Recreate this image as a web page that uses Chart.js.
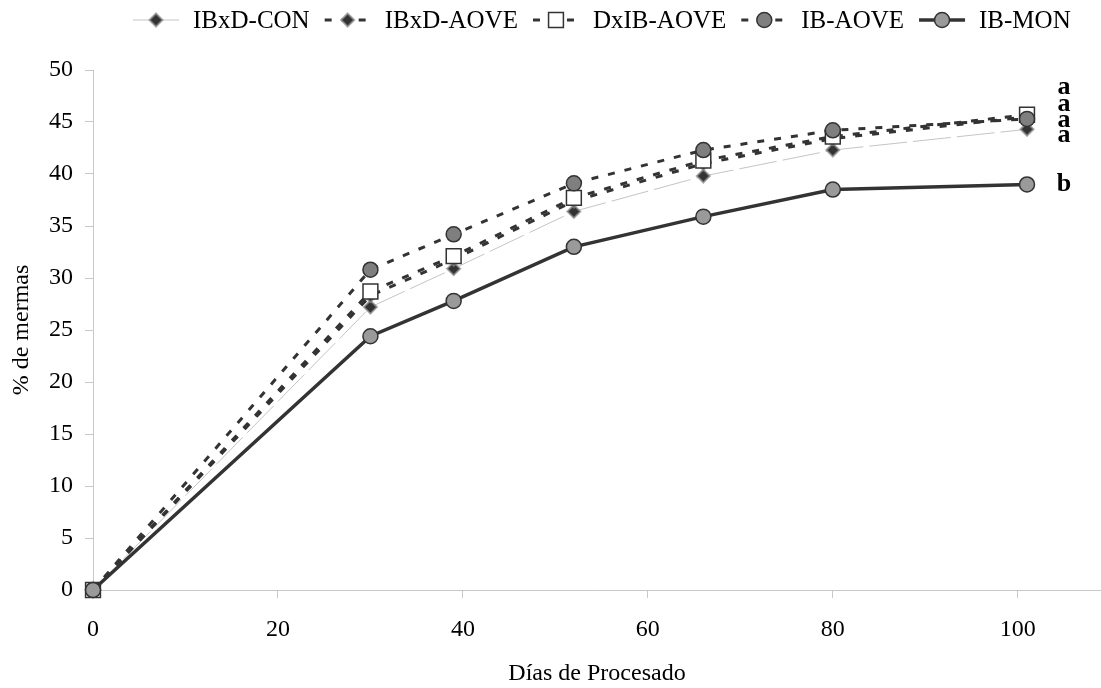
<!DOCTYPE html>
<html>
<head>
<meta charset="utf-8">
<title>% de mermas</title>
<script src="https://cdn.jsdelivr.net/npm/chart.js@4.4.1/dist/chart.umd.min.js"></script>
<style>
  html, body { margin: 0; padding: 0; background: #fff; }
  #wrap { width: 1101px; height: 688px; }
</style>
</head>
<body>
<div id="wrap"><canvas id="mermasChart" width="1101" height="688"></canvas></div>
<script>
// días de procesado
const dias = [0, 30, 39, 52, 66, 80, 101];

// % de mermas por lote
const ibxdCon  = [0, 27.2, 30.9, 36.4, 39.8, 42.3, 44.3];
const ibxdAove = [0, 28.3, 31.8, 37.4, 41.0, 43.4, 45.5];
const dxibAove = [0, 28.7, 32.1, 37.7, 41.3, 43.6, 45.7];
const ibAove   = [0, 30.8, 34.2, 39.1, 42.3, 44.2, 45.3];
const ibMon    = [0, 24.4, 27.8, 33.0, 35.9, 38.5, 39.0];

// letras de significación al final de cada curva
const letras  = ['a', 'a', 'a', 'a', 'b'];
const letrasY = [48.3, 46.7, 45.2, 43.7, 39.0];

const FONT = '"Liberation Serif", "Times New Roman", serif';
const DARK = '#333333';
const DASH = [7, 10];

function serie(label, values, extra) {
    return Object.assign({
        label: label,
        data: dias.map((d, i) => ({ x: d, y: values[i] })),
        borderColor: DARK,
        borderWidth: 3,
        borderDash: DASH,
        pointBorderColor: DARK,
        pointBorderWidth: 1.5,
        pointHoverRadius: 0,
        tension: 0,
        fill: false,
        clip: 20
    }, extra);
}

const datasets = [
    serie('IBxD-CON', ibxdCon, {
        borderColor: '#c4c4c4', borderWidth: 1, borderDash: [38, 6],
        pointStyle: 'rectRot', pointRadius: 6.5,
        pointBackgroundColor: DARK, pointBorderColor: 'rgba(140,140,140,0.7)', pointBorderWidth: 2,
        order: 5
    }),
    serie('IBxD-AOVE', ibxdAove, {
        pointStyle: 'rectRot', pointRadius: 6.5,
        pointBackgroundColor: DARK, pointBorderColor: 'rgba(140,140,140,0.7)', pointBorderWidth: 2,
        order: 4
    }),
    serie('DxIB-AOVE', dxibAove, {
        pointStyle: 'rect', pointRadius: 10.5,
        pointBackgroundColor: '#ffffff',
        order: 3
    }),
    serie('IB-AOVE', ibAove, {
        pointStyle: 'circle', pointRadius: 7.5,
        pointBackgroundColor: '#7f7f7f',
        order: 2
    }),
    serie('IB-MON', ibMon, {
        borderWidth: 3.5, borderDash: [],
        pointStyle: 'circle', pointRadius: 7.5,
        pointBackgroundColor: '#9a9a9a',
        order: 1
    })
];

// marcador simple para la leyenda
function drawMarker(ctx, style, r, x, y) {
    ctx.beginPath();
    if (style === 'rectRot') {
        ctx.moveTo(x - r, y);
        ctx.lineTo(x, y - r);
        ctx.lineTo(x + r, y);
        ctx.lineTo(x, y + r);
        ctx.closePath();
    } else if (style === 'rect') {
        const s = r * Math.SQRT1_2;
        ctx.rect(x - s, y - s, 2 * s, 2 * s);
    } else {
        ctx.arc(x, y, r, 0, Math.PI * 2);
    }
    ctx.fill();
    ctx.stroke();
}

const leyendaArriba = {
    id: 'leyendaArriba',
    afterDraw(chart) {
        const ctx = chart.ctx;
        const y = 20;
        let x = 133;
        ctx.save();
        ctx.font = '25px ' + FONT;
        ctx.textBaseline = 'middle';
        ctx.textAlign = 'left';
        chart.data.datasets.forEach(ds => {
            ctx.strokeStyle = ds.borderColor;
            ctx.lineWidth = ds.borderWidth;
            ctx.setLineDash(ds.label === 'IBxD-CON' ? [] : ds.borderDash);
            ctx.beginPath();
            ctx.moveTo(x, y);
            ctx.lineTo(x + 46, y);
            ctx.stroke();
            ctx.setLineDash([]);
            ctx.fillStyle = ds.pointBackgroundColor;
            ctx.strokeStyle = ds.pointBorderColor;
            ctx.lineWidth = ds.pointBorderWidth;
            drawMarker(ctx, ds.pointStyle, ds.pointRadius, x + 23, y);
            ctx.fillStyle = '#000';
            ctx.fillText(ds.label, x + 60, y + 1);
            x += 60 + ctx.measureText(ds.label).width + 15;
        });
        ctx.restore();
    }
};

const letrasFinales = {
    id: 'letrasFinales',
    afterDatasetsDraw(chart) {
        const ctx = chart.ctx;
        const xs = chart.scales.x, ys = chart.scales.y;
        const px = xs.getPixelForValue(dias[dias.length - 1]) + 37;
        ctx.save();
        ctx.font = 'bold 26px ' + FONT;
        ctx.fillStyle = '#000';
        ctx.textAlign = 'center';
        ctx.textBaseline = 'middle';
        letras.forEach((l, i) => ctx.fillText(l, px, ys.getPixelForValue(letrasY[i])));
        ctx.restore();
    }
};

const ctx = document.getElementById('mermasChart').getContext('2d');
new Chart(ctx, {
    type: 'line',
    data: { datasets: datasets },
    options: {
        responsive: false,
        animation: false,
        devicePixelRatio: 1,
        layout: { autoPadding: false, padding: { top: 70, right: 0, left: 0, bottom: 0 } },
        plugins: {
            legend: { display: false },
            tooltip: { enabled: false }
        },
        scales: {
            x: {
                type: 'linear',
                min: 0,
                max: 109,
                afterFit: scale => { scale.height = 98; },
                border: { color: '#c8c8c8', width: 1 },
                grid: { drawOnChartArea: false, tickLength: 8, color: '#c8c8c8' },
                ticks: {
                    stepSize: 20,
                    includeBounds: false,
                    color: '#000',
                    padding: 17,
                    maxRotation: 0,
                    font: { family: FONT, size: 24 }
                },
                title: {
                    display: true,
                    text: 'Días de Procesado',
                    color: '#000',
                    padding: { top: 0, bottom: 0 },
                    font: { family: FONT, size: 24 }
                }
            },
            y: {
                min: 0,
                max: 50,
                afterFit: scale => { scale.width = 93; },
                border: { color: '#c8c8c8', width: 1 },
                grid: { drawOnChartArea: false, tickLength: 8, color: '#c8c8c8' },
                ticks: {
                    stepSize: 5,
                    color: '#000',
                    padding: 12,
                    font: { family: FONT, size: 24 }
                },
                title: {
                    display: true,
                    text: '% de mermas',
                    color: '#000',
                    padding: { top: 7, bottom: 0 },
                    font: { family: FONT, size: 24 }
                }
            }
        }
    },
    plugins: [leyendaArriba, letrasFinales]
});
</script>
</body>
</html>
